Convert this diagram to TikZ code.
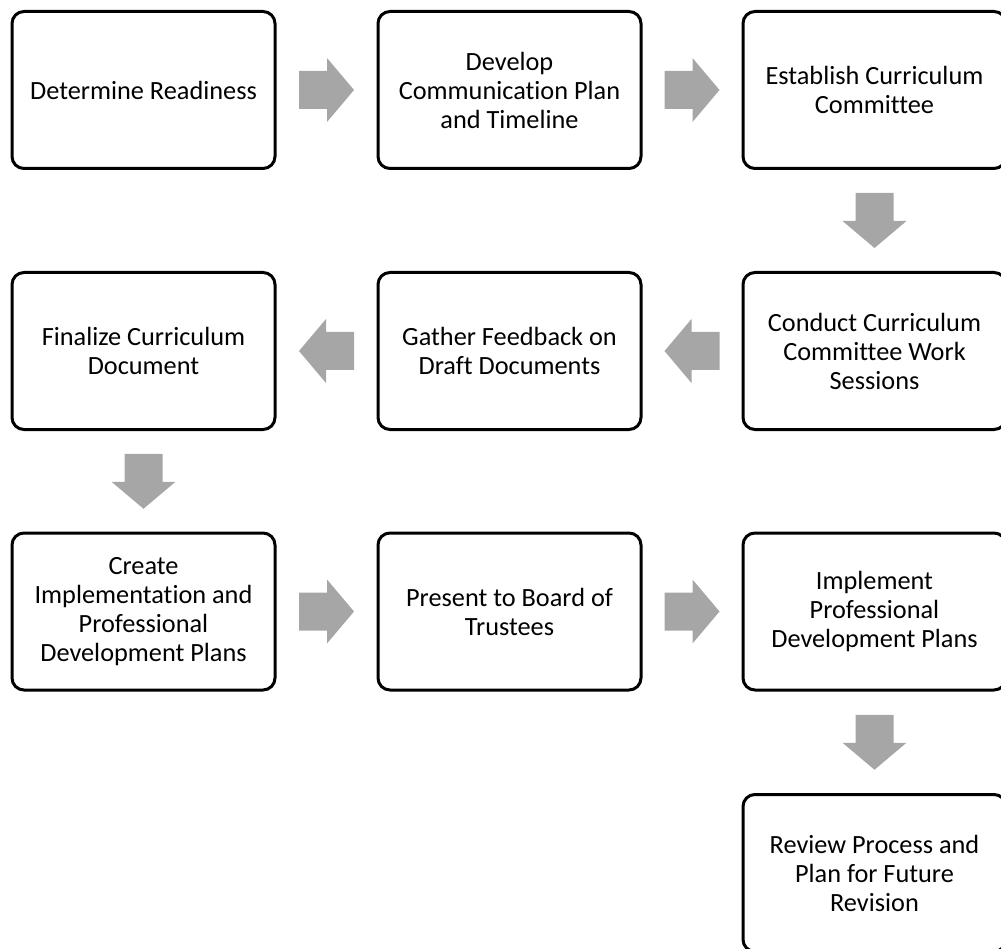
\documentclass[tikz,border=0pt]{standalone}
\usepackage{fontspec}
\setmainfont{Carlito}[Ligatures={NoCommon,NoContextual}]
\usetikzlibrary{calc}
\definecolor{arrowgray}{HTML}{A6A6A6}
\tikzset{
  stepbox/.style={draw=black, line width=3pt, rounded corners=12pt, fill=white,
    minimum width=263pt, minimum height=157pt, inner sep=0pt, align=center,
    font=\fontsize{26.3}{29}\selectfont},
  rarr/.pic={\fill[arrowgray] (-27.5,-19) -- (0.5,-19) -- (0.5,-32) -- (27.5,0)
     -- (0.5,32) -- (0.5,19) -- (-27.5,19) -- cycle;}
}
\begin{document}
\begin{tikzpicture}[x=1pt,y=-1pt]
\useasboundingbox (0,0) rectangle (1001,949);
\node[stepbox] (b1) at (143.5,90) {Determine Readiness};
\node[stepbox] (b2) at (509.5,90) {Develop\\Communication Plan\\and Timeline};
\node[stepbox] (b3) at (874.5,90) {Establish Curriculum\\Committee};
\node[stepbox] (b4) at (874.5,351) {Conduct Curriculum\\Committee Work\\Sessions};
\node[stepbox] (b5) at (509.5,351) {Gather Feedback on\\Draft Documents};
\node[stepbox] (b6) at (143.5,351) {Finalize Curriculum\\Document};
\node[stepbox] (b7) at (143.5,611.5) {Create\\Implementation and\\Professional\\Development Plans};
\node[stepbox] (b8) at (509.5,611.5) {Present to Board of\\Trustees};
\node[stepbox] (b9) at (874.5,611.5) {Implement\\Professional\\Development Plans};
\node[stepbox] (b10) at (874.5,873) {Review Process and\\Plan for Future\\Revision};
\pic at ($(b1.east)!0.5!(b2.west)$) {rarr};
\pic at ($(b2.east)!0.5!(b3.west)$) {rarr};
\pic[rotate=-90] at ($(b3.south)!0.5!(b4.north)$) {rarr};
\pic[rotate=180] at ($(b4.west)!0.5!(b5.east)$) {rarr};
\pic[rotate=180] at ($(b5.west)!0.5!(b6.east)$) {rarr};
\pic[rotate=-90] at ($(b6.south)!0.5!(b7.north)$) {rarr};
\pic at ($(b7.east)!0.5!(b8.west)$) {rarr};
\pic at ($(b8.east)!0.5!(b9.west)$) {rarr};
\pic[rotate=-90] at ($(b9.south)!0.5!(b10.north)$) {rarr};
\end{tikzpicture}
\end{document}
